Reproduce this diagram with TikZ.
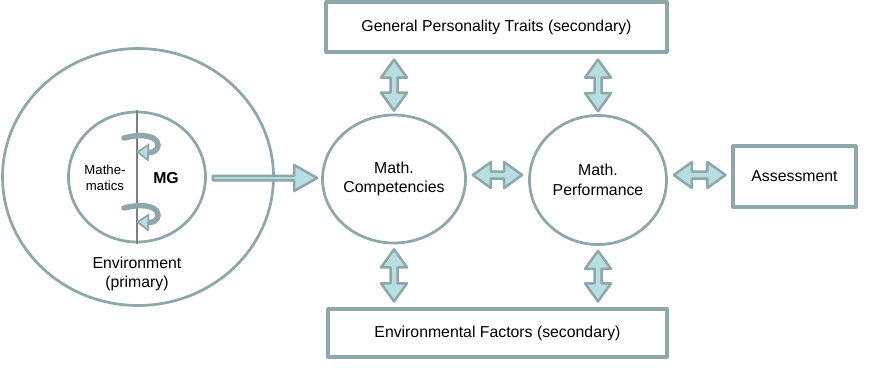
\documentclass[tikz,border=0pt]{standalone}
\usepackage{fontspec}
\setmainfont{Liberation Sans}
\usetikzlibrary{calc,shapes.geometric,arrows.meta}

\definecolor{edgec}{HTML}{8DA7AA}
\definecolor{fillc}{HTML}{B8DEE1}
\definecolor{axisc}{HTML}{7F7F7F}

\tikzset{
  bubble/.style={ellipse, draw=edgec, line width=0.055cm, inner sep=0pt, align=center},
  framebox/.style={rectangle, draw=edgec, line width=0.065cm, inner sep=0pt, align=center},
  blockarr/.style={draw=edgec, fill=fillc, line width=0.05cm},
  curlarr/.style={draw=edgec, line width=0.11cm, -{Triangle[length=0.26cm, width=0.36cm, fill=fillc, line width=0.035cm]}},
}

% double block arrow between two coordinates
\newcommand{\dblarrow}[2]{%
  \coordinate (da1) at ($(#1)!0.36cm!(#2)$);
  \coordinate (da2) at ($(#2)!0.36cm!(#1)$);
  \draw[blockarr] (#1) -- ($(da1)!0.26cm!90:(#2)$) -- ($(da1)!0.07cm!90:(#2)$)
    -- ($(da2)!0.07cm!-90:(#1)$) -- ($(da2)!0.26cm!-90:(#1)$) -- (#2)
    -- ($(da2)!0.26cm!90:(#1)$) -- ($(da2)!0.07cm!90:(#1)$)
    -- ($(da1)!0.07cm!-90:(#2)$) -- ($(da1)!0.26cm!-90:(#2)$) -- cycle;
}
% single block arrow from #1 to #2
\newcommand{\sglarrow}[2]{%
  \coordinate (sa2) at ($(#2)!0.46cm!(#1)$);
  \draw[blockarr] ($(#1)!0.045cm!90:(#2)$) -- ($(sa2)!0.045cm!-90:(#1)$)
    -- ($(sa2)!0.26cm!-90:(#1)$) -- (#2) -- ($(sa2)!0.26cm!90:(#1)$)
    -- ($(sa2)!0.045cm!90:(#1)$) -- ($(#1)!0.045cm!-90:(#2)$) -- cycle;
}

\begin{document}
\begin{tikzpicture}[x=0.02cm, y=-0.02cm, font=\fontsize{9}{11}\selectfont, line join=round, line cap=round]
	\useasboundingbox (0,0) rectangle (876,376);
	
	% [Frame - Layer 1]
	\node[bubble, minimum width=5.42cm, minimum height=5.14cm] (env) at (138,177) {};
	\node[bubble, minimum width=2.74cm, minimum height=2.6cm] (mg) at (137,177) {};
	\node[bubble, minimum width=2.72cm, minimum height=2.56cm] (comp) at (394,179) {Math.\\Competencies};
	\node[bubble, minimum width=2.74cm, minimum height=2.58cm] (perf) at (598,180) {Math.\\Performance};
	\node[framebox, minimum width=2.46cm, minimum height=1.22cm] (assess) at (794.5,176.5) {Assessment};
	\node[framebox, minimum width=6.82cm, minimum height=1.0cm] (traits) at (496.5,27) {General Personality Traits (secondary)};
	\node[framebox, minimum width=6.78cm, minimum height=0.96cm] (envf) at (497.5,333) {Environmental Factors (secondary)};
	
	% [Inside MG - Layer 2]
	\draw[axisc, line width=0.03cm] (mg.north) -- (mg.south);
	\node[align=center, font=\fontsize{7.5}{9}\selectfont] (mathe) at (105,178) {Mathe-\\matics};
	\node[font=\fontsize{9}{11}\selectfont\bfseries] (mgl) at (166,178) {MG};
	\node[align=center] (envl) at (137,274) {Environment\\(primary)};
	\draw[curlarr] (124,138) .. controls (164,128) and (164,153) .. (136,152);
	\draw[curlarr] (124,208) .. controls (164,198) and (164,223) .. (136,222);
	
	% [Arrow ends - Layer 3]
	\coordinate (m1) at ($(mg.east)+(6,1)$);
	\coordinate (m2) at ($(comp.west |- m1)+(-4,0)$);
	\coordinate (tc1) at ($(comp.north |- traits.south)+(0,6)$);
	\coordinate (tc2) at ($(comp.north)+(0,-3)$);
	\coordinate (tp1) at ($(perf.north |- traits.south)+(0,6)$);
	\coordinate (tp2) at ($(perf.north)+(0,-3)$);
	\coordinate (bc1) at ($(comp.south)+(0,5)$);
	\coordinate (bc2) at ($(comp.south |- envf.north)+(0,-6)$);
	\coordinate (bp1) at ($(perf.south)+(0,5)$);
	\coordinate (bp2) at ($(perf.south |- envf.north)+(0,-6)$);
	\coordinate (h1) at ($(comp.east)+(6,-4)$);
	\coordinate (h2) at ($(perf.west |- h1)+(-6,0)$);
	\coordinate (h3) at ($(perf.east)+(6,-5)$);
	\coordinate (h4) at ($(assess.west |- h3)+(-6,0)$);
	
	% [Block arrows - Layer 4]
	\sglarrow{m1}{m2}
	\dblarrow{tc1}{tc2}
	\dblarrow{tp1}{tp2}
	\dblarrow{bc1}{bc2}
	\dblarrow{bp1}{bp2}
	\dblarrow{h1}{h2}
	\dblarrow{h3}{h4}
\end{tikzpicture}
\end{document}
